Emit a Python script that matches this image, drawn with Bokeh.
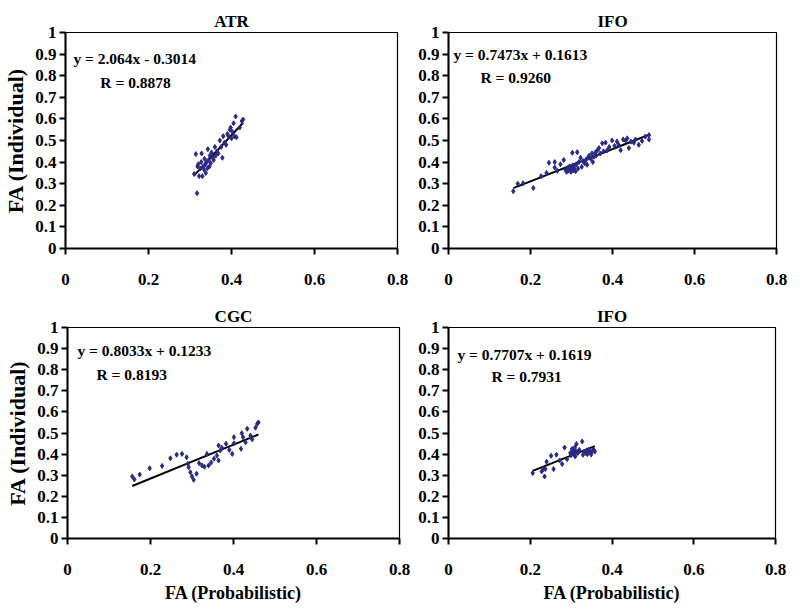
from bokeh.plotting import figure
from bokeh.layouts import column, row
from bokeh.models import FixedTicker, Label, Range1d
from bokeh.embed import file_html
from bokeh.resources import INLINE

# ---------------- data ----------------
atr_x = [0.317, 0.310, 0.314, 0.318, 0.320, 0.322, 0.325, 0.327, 0.328, 0.330, 0.332, 0.334,
         0.335, 0.337, 0.338, 0.340, 0.342, 0.343, 0.345, 0.347, 0.348, 0.350, 0.352, 0.355,
         0.357, 0.360, 0.362, 0.365, 0.368, 0.372, 0.375, 0.378, 0.380, 0.383, 0.387, 0.390,
         0.393, 0.396, 0.398, 0.400, 0.402, 0.405, 0.407, 0.410, 0.412, 0.420, 0.425, 0.428]
atr_y = [0.256, 0.345, 0.437, 0.380, 0.390, 0.335, 0.370, 0.400, 0.440, 0.335, 0.380, 0.365,
         0.415, 0.390, 0.350, 0.400, 0.372, 0.460, 0.410, 0.380, 0.430, 0.395, 0.445, 0.420,
         0.410, 0.470, 0.430, 0.450, 0.440, 0.500, 0.470, 0.420, 0.520, 0.490, 0.480, 0.530,
         0.520, 0.550, 0.560, 0.510, 0.540, 0.580, 0.520, 0.611, 0.515, 0.560, 0.590, 0.597]

ifo1_x = [0.158, 0.169, 0.182, 0.207, 0.226, 0.239, 0.245, 0.259, 0.259, 0.265, 0.273, 0.281,
          0.285, 0.288, 0.290, 0.292, 0.295, 0.297, 0.299, 0.300, 0.302, 0.303, 0.305, 0.307,
          0.310, 0.312, 0.314, 0.316, 0.318, 0.322, 0.325, 0.328, 0.332, 0.335, 0.338, 0.340,
          0.343, 0.347, 0.350, 0.352, 0.355, 0.358, 0.360, 0.363, 0.367, 0.370, 0.375, 0.378,
          0.383, 0.387, 0.392, 0.399, 0.405, 0.411, 0.415, 0.420, 0.426, 0.432, 0.436, 0.440,
          0.445, 0.452, 0.456, 0.464, 0.472, 0.480, 0.489, 0.489]
ifo1_y = [0.265, 0.300, 0.302, 0.280, 0.335, 0.350, 0.397, 0.400, 0.375, 0.360, 0.390, 0.410,
          0.365, 0.355, 0.372, 0.360, 0.380, 0.365, 0.355, 0.370, 0.443, 0.385, 0.362, 0.375,
          0.358, 0.390, 0.446, 0.370, 0.400, 0.420, 0.378, 0.405, 0.395, 0.410, 0.388, 0.420,
          0.430, 0.415, 0.440, 0.400, 0.425, 0.445, 0.430, 0.455, 0.465, 0.440, 0.487, 0.450,
          0.490, 0.455, 0.470, 0.500, 0.475, 0.495, 0.480, 0.455, 0.505, 0.500, 0.510, 0.465,
          0.495, 0.490, 0.505, 0.480, 0.498, 0.518, 0.525, 0.505]

cgc_x = [0.156, 0.161, 0.174, 0.198, 0.228, 0.248, 0.263, 0.276, 0.287, 0.290, 0.292, 0.296,
         0.300, 0.304, 0.311, 0.317, 0.324, 0.340, 0.336, 0.353, 0.360, 0.364, 0.364, 0.368,
         0.382, 0.397, 0.401, 0.401, 0.418, 0.420, 0.423, 0.429, 0.433, 0.441, 0.445, 0.453,
         0.457, 0.460, 0.330, 0.346, 0.372, 0.390]
cgc_y = [0.294, 0.280, 0.303, 0.333, 0.344, 0.380, 0.397, 0.401, 0.385, 0.354, 0.338, 0.314,
         0.294, 0.278, 0.307, 0.357, 0.346, 0.346, 0.401, 0.378, 0.393, 0.370, 0.441, 0.417,
         0.449, 0.401, 0.451, 0.480, 0.425, 0.499, 0.480, 0.456, 0.520, 0.488, 0.470, 0.525,
         0.543, 0.550, 0.340, 0.360, 0.430, 0.420]

ifo2_x = [0.206, 0.228, 0.232, 0.235, 0.237, 0.240, 0.251, 0.257, 0.264, 0.272, 0.278, 0.284,
          0.290, 0.298, 0.300, 0.302, 0.304, 0.306, 0.307, 0.309, 0.310, 0.312, 0.313, 0.316,
          0.320, 0.327, 0.329, 0.332, 0.336, 0.338, 0.340, 0.343, 0.346, 0.349, 0.352, 0.355,
          0.358]
ifo2_y = [0.310, 0.318, 0.330, 0.294, 0.329, 0.364, 0.392, 0.329, 0.397, 0.370, 0.353, 0.431,
          0.376, 0.405, 0.395, 0.424, 0.410, 0.418, 0.400, 0.432, 0.389, 0.415, 0.448, 0.405,
          0.420, 0.460, 0.397, 0.412, 0.405, 0.418, 0.400, 0.420, 0.410, 0.398, 0.415, 0.422,
          0.412]

titles = ["ATR", "IFO", "CGC", "IFO"]
slopes = [2.064, 0.7473, 0.8033, 0.7707]
intercepts = [-0.3014, 0.1613, 0.1233, 0.1619]
eq_texts = ["y = 2.064x - 0.3014", "y = 0.7473x + 0.1613",
            "y = 0.8033x + 0.1233", "y = 0.7707x + 0.1619"]
r_texts = ["R = 0.8878", "R = 0.9260", "R = 0.8193", "R = 0.7931"]

x_ticks = [0, 0.2, 0.4, 0.6, 0.8]
x_tick_labels = ["0", "0.2", "0.4", "0.6", "0.8"]
y_ticks = [0, 0.1, 0.2, 0.3, 0.4, 0.5, 0.6, 0.7, 0.8, 0.9, 1]
y_tick_labels = ["0", "0.1", "0.2", "0.3", "0.4", "0.5", "0.6", "0.7", "0.8", "0.9", "1"]

x_label = "FA (Probabilistic)"
y_label = "FA (Individual)"

FONT = "Liberation Serif"
MARK = "#2b2b85"


def make_panel(xs, ys, idx, width, height, bl, br, bt, bb, show_ylabel, show_xlabel,
               eq_pos, r_pos):
    p = figure(width=width, height=height, output_backend="svg", toolbar_location=None,
               x_range=Range1d(0, 0.8), y_range=Range1d(0, 1),
               min_border_left=bl, min_border_right=br, min_border_top=bt,
               min_border_bottom=bb, title=titles[idx])
    p.title.align = "center"
    p.title.text_font = FONT
    p.title.text_font_style = "bold"
    p.title.text_font_size = "17px"
    p.title.text_color = "black"
    p.title.standoff = 4
    p.title.offset = 0
    p.grid.visible = False
    p.outline_line_color = "black"
    p.outline_line_width = 1.2
    p.background_fill_color = "white"
    p.border_fill_color = "white"

    for ax, ticks, labels in ((p.xaxis[0], x_ticks, x_tick_labels),
                              (p.yaxis[0], y_ticks, y_tick_labels)):
        ax.ticker = FixedTicker(ticks=ticks)
        ax.major_label_overrides = dict(zip(ticks, labels))
        ax.minor_tick_line_color = None
        ax.major_tick_in = 0
        ax.major_tick_out = 6
        ax.axis_line_width = 2
        ax.major_tick_line_width = 2
        ax.axis_line_color = "black"
        ax.major_tick_line_color = "black"
        ax.major_label_text_font = FONT
        ax.major_label_text_font_style = "bold"
        ax.major_label_text_font_size = "17px"
        ax.major_label_text_color = "black"
        ax.axis_label_text_font = FONT
        ax.axis_label_text_font_style = "bold"
        ax.axis_label_text_color = "black"

    p.xaxis[0].major_label_standoff = 19
    p.yaxis[0].major_label_standoff = 3
    if show_xlabel:
        p.xaxis[0].axis_label = x_label
        p.xaxis[0].axis_label_text_font_size = "18px"
        p.xaxis[0].axis_label_standoff = 5
    if show_ylabel:
        p.yaxis[0].axis_label = y_label
        p.yaxis[0].axis_label_text_font_size = "22px"
        p.yaxis[0].axis_label_standoff = 4

    # regression line over the data's x span
    x0, x1 = min(xs), max(xs)
    m, b = slopes[idx], intercepts[idx]
    p.line([x0, x1], [m * x0 + b, m * x1 + b], line_color="black", line_width=2)
    p.scatter(xs, ys, marker="diamond", size=5, fill_color=MARK, line_color=MARK)

    p.add_layout(Label(x=eq_pos[0], y=eq_pos[1], text=eq_texts[idx], text_font=FONT,
                       text_font_style="bold", text_font_size="15.5px",
                       text_baseline="middle", text_color="black"))
    p.add_layout(Label(x=r_pos[0], y=r_pos[1], text=r_texts[idx], text_font=FONT,
                       text_font_style="bold", text_font_size="15.5px",
                       text_baseline="middle", text_color="black"))
    return p


p1 = make_panel(atr_x, atr_y, 0, 412, 300, 65, 15, 32, 52, True, False,
                (0.019, 0.88), (0.084, 0.77))
p2 = make_panel(ifo1_x, ifo1_y, 1, 380, 300, 36, 16, 32, 52, False, False,
                (0.012, 0.90), (0.078, 0.79))
p3 = make_panel(cgc_x, cgc_y, 2, 412, 308, 67, 13, 27, 70, True, True,
                (0.024, 0.89), (0.07, 0.777))
p4 = make_panel(ifo2_x, ifo2_y, 3, 380, 308, 36, 17, 27, 70, False, True,
                (0.022, 0.874), (0.105, 0.77))

layout = column(row(p1, p2), row(p3, p4))

open("out.html", "w").write(file_html(layout, INLINE))
